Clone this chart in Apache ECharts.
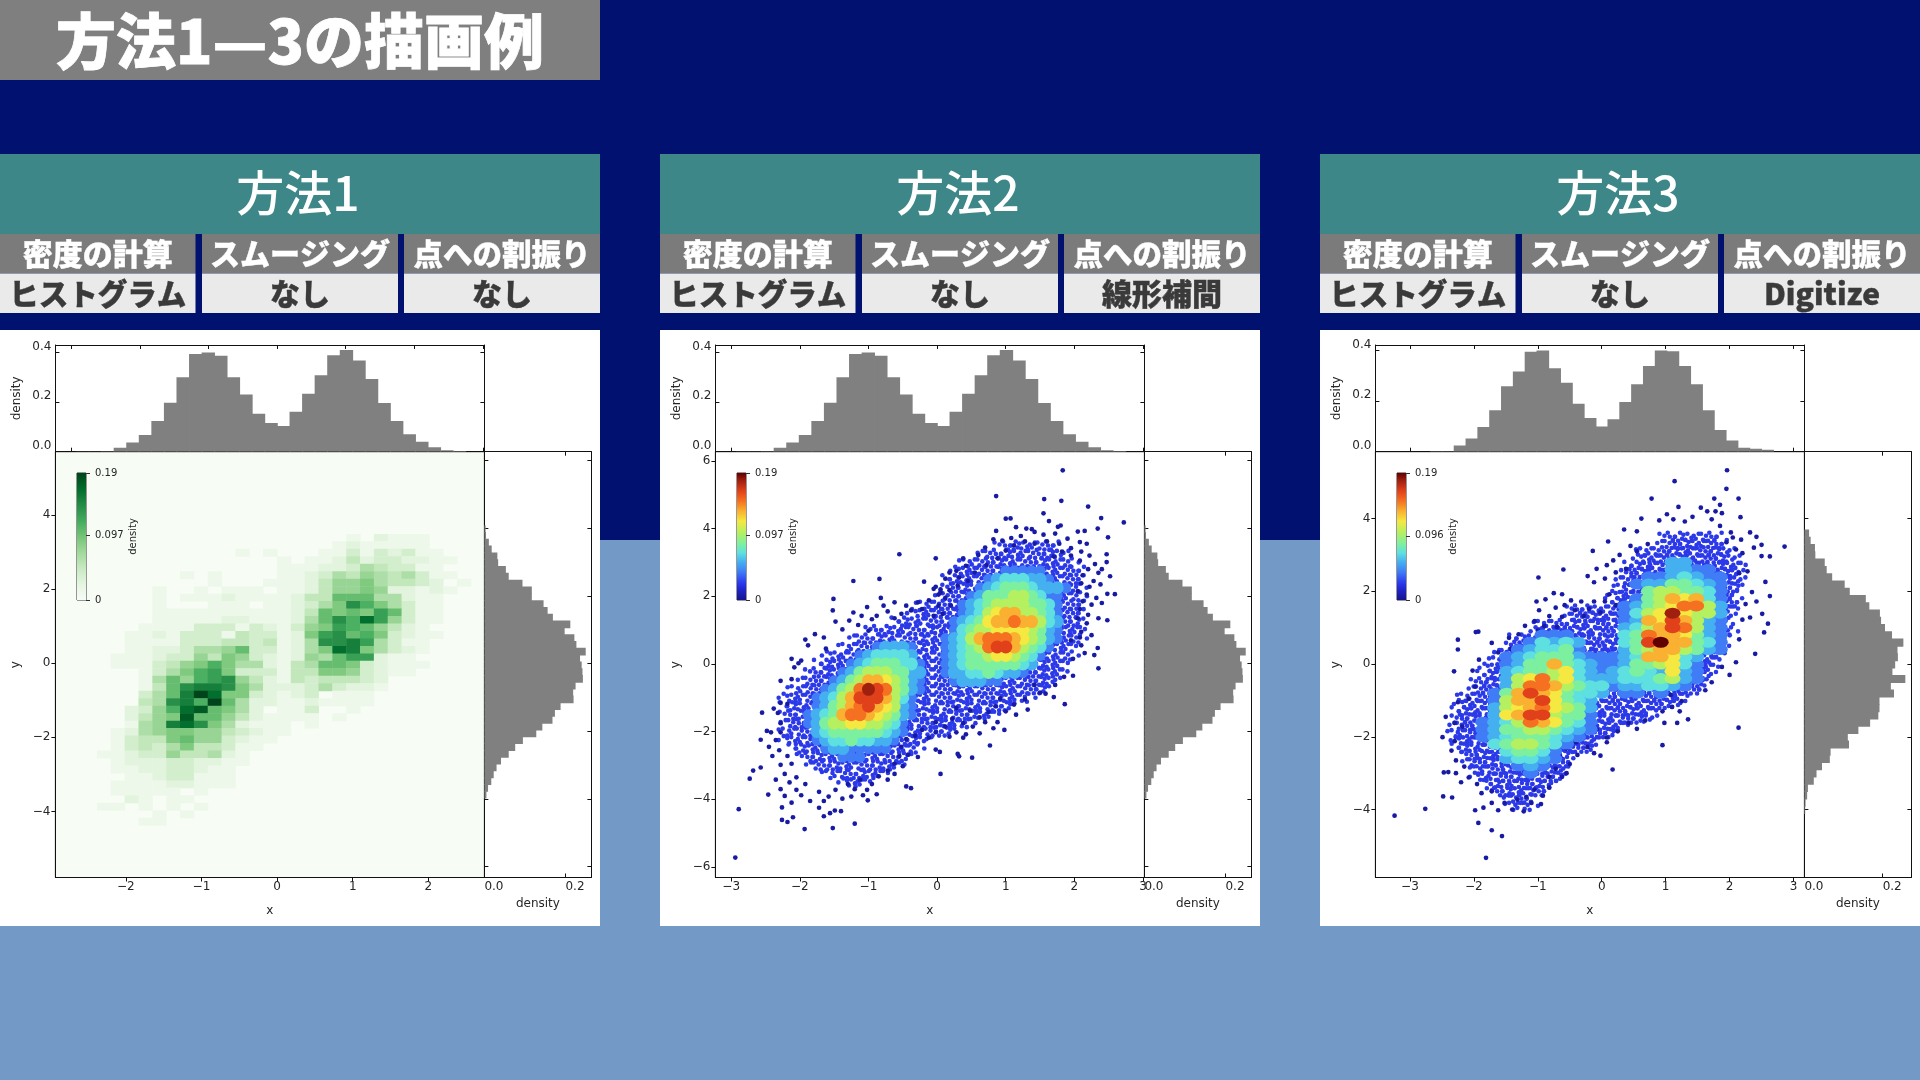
<!DOCTYPE html>
<html><head><meta charset="utf-8">
<style>html,body{margin:0;padding:0;background:#001170}#c{width:1920px;height:1080px}</style>
<script src="https://cdn.jsdelivr.net/npm/echarts@6/dist/echarts.min.js"></script>
</head><body><div id="c"></div>
<script>
// ---------- text ----------
const pageTitle='方法1—3の描画例';
const methodNames=['方法1','方法2','方法3'];
const headerLabels=['密度の計算','スムージング','点への割振り'];
const methodValues=[['ヒストグラム','なし','なし'],['ヒストグラム','なし','線形補間'],['ヒストグラム','なし','Digitize']];
const colorbarMid=[0.097,0.097,0.096];
// ---------- marginal histograms ----------
const topHistA=[.001,.001,.002,.016,.037,.067,.124,.197,.30,.394,.40,.387,.30,.231,.153,.116,.104,.161,.234,.308,.389,.41,.368,.293,.196,.124,.07,.04,.018,.006,.003];
const topHistAStart=-2.93, topHistAWidth=.183;
const rightHistA=[.003,.004,.011,.018,.032,.034,.053,.06,.094,.117,.117,.146,.156,.169,.212,.198,.222,.227,.25,.236,.24,.242,.243,.225,.219,.22,.188,.174,.168,.143,.128,.095,.076,.06,.041,.03,.023,.017,.009,.005];
const rightHistATop=4.09, rightHistAHeight=.2014;
const topHistB=[.002,.002,.025,.052,.098,.164,.259,.317,.395,.40,.33,.273,.19,.133,.10,.128,.197,.267,.339,.40,.397,.339,.267,.164,.086,.044,.016,.012,.008];
const topHistBStart=-2.685, topHistBWidth=.185;
const rightHistB=[.012,.016,.027,.028,.052,.057,.071,.103,.116,.157,.166,.193,.196,.206,.224,.253,.238,.239,.232,.225,.258,.221,.229,.192,.192,.189,.168,.138,.111,.114,.067,.065,.045,.031,.024,.009,.007,.003,.002];
const rightHistBTop=3.70, rightHistBHeight=.2;
// ---------- method 1 : 2D histogram, level 0-f of 0.19, rows from row 45 down to row 7 ----------
const heatXStart=-2.93, heatXWidth=.183, heatYStart=-5.78, heatYHeight=.2014, heatTopRow=45;
const heatRows=[
'00000 00000 00000 00000 01021 11000 0','00000 00000 00000 00000 12111 11000 0','00000 00000 00010 10001 13132 31100 0','00000 00000 00000 01011 24233 22110 0','00000 00000 00000 01112 23543 31100 0',
'00000 00001 01000 01123 54654 53110 0','00000 00000 01000 11124 66754 43201 0','00000 00100 10111 01124 66762 21210 0','00000 00101 11211 11244 88855 21100 0','00000 00100 01110 11235 7b975 31100 0',
'00000 00111 11111 11248 787a8 31100 0','00000 00111 11221 11258 b9da6 31100 0','00000 01111 33313 21367 a9864 21000 0','00000 11213 33143 3127a b8973 21100 0','00000 11113 33443 4125b bca53 11000 0',
'00000 11223 55683 31257 dc753 21000 0','00001 11233 64763 21265 8aa21 10000 0','00001 11346 79755 21458 87321 11000 0','00000 01357 9a733 31447 76321 10000 0','00000 01586 9ab64 21434 44320 00000 0',
'00000 0148b ccb75 22235 32210 00000 0','00000 0358c fd773 21230 11100 00000 0','00000 045bc 9f852 21121 11100 00000 0','00000 2369d e8752 01130 01000 00000 0','00000 2467e 88642 11110 10000 00000 0',
'00000 156cd b7521 11010 00000 00000 0','00001 25677 66432 11000 00000 00000 0','00001 34478 66321 10000 00000 00000 0','00001 34357 44311 00000 00000 00000 0','00011 23364 45210 00000 00000 00000 0',
'00001 22233 22110 00000 00000 00000 0','00001 12233 21100 00000 00000 00000 0','00000 11233 11100 00000 00000 00000 0','00001 11122 11100 00000 00000 00000 0','00001 11110 10000 00000 00000 00000 0',
'00000 21011 00000 00000 00000 00000 0','00011 01010 10000 00000 00000 00000 0','00000 00101 00000 00000 00000 00000 0','00000 01100 00000 00000 00000 00000 0'
];
// ---------- method 2 : read density level per cell ----------
const m2XStart=-2.25, m2XStep=.125, m2YTop=3.5, m2YStep=.25;
const m2Rows=[
'0000000000 0000000000 0000000111 1100000','0000000000 0000000000 0000111111 1110000','0000000000 0000000000 0001111111 1111000','0000000000 0000000000 0011112222 2111000',
'0000000000 0000000000 0011234443 3211100','0000000000 0000000000 0012345554 3332100','0000000000 0000000000 0123555665 4221000','0000000000 0000000000 1234566665 5421000',
'0000000000 0000000001 1234678866 5421000','0000000000 0000000001 2345788988 6431000','0000000000 0000000011 2456677776 5321000','0000000000 0000000012 3468999876 5321000',
'0000000001 1233321112 345 69aa865 4210000','0000000112 3444431112 3455677654 2100000','0000001123 4555442112 3455555543 1100000','0000011235 6665533112 3344543321 1000000',
'0000112356 8876532111 2333221110 0000000','0001123569 ba96532111 1111110000 0000000','000123468a aa86421111 1111100000 0000000','0011235689 a876321101 1100000000 0000000',
'0012345899 8765321000 0000000000 0000000','0012356677 6654210000 0000000000 0000000','0011345555 5543210000 0000000000 0000000','0001234454 4332100000 0000000000 0000000',
'0001123322 2221000000 0000000000 0000000','0000111222 1110000000 0000000000 0000000','0000011111 1100000000 0000000000 0000000','0000001010 0000000000 0000000000 0000000'
];
// extent of the dense blue band of points: [y, xFrom, xTo]
const m2BandStepX=.125, m2BandStepY=.25;
const m2Band=[[3.5,.88,1.75],[3.25,.62,1.88],[3,.38,2],[2.75,.25,2.12],[2.5,.12,2.12],[2.25,.12,2.12],[2,0,2.12],[1.75,-.25,2.12],[1.5,-.38,2.12],[1.25,-.62,2.12],[1,-1,2.12],[.75,-1.25,2.12],[.5,-1.38,2],[.25,-1.62,2],[0,-1.75,1.88],[-.25,-1.88,1.88],[-.5,-2,1.75],[-.75,-2.12,1.62],[-1,-2.25,1.38],[-1.25,-2.25,1.12],[-1.5,-2.25,.88],[-1.75,-2.25,.5],[-2,-2.25,.25],[-2.25,-2.25,-.12],[-2.5,-2.12,-.25],[-2.75,-2,-.38],[-3,-1.88,-.5],[-3.25,-1.62,-.75],[-3.5,-1.38,-1]];
const m2Dots=[1.83,5.72,.86,4.96,1.56,4.87,1.81,4.82,2.2,4.65,1.55,4.45,2.39,4.31,2.72,4.18,1.63,4.22,1.8,4.09,1.76,4.05,2.34,4,1,4.29,1.07,4.3,.86,3.93,1.15,4.04,1.3,4,1.38,3.98,2.49,3.74,2.15,3.93,2.05,3.91,2.47,3.24,2.47,3.01,-.55,3.24,-.02,3.12,2.52,2.59,2.4,2.8,2.35,2.69,2.48,2.07,2.59,2.06,2.48,1.29,2.34,.47,2.29,.26,2.35,-.13,1.86,-1.19,.77,-2.41,.51,-2.77,.3,-2.66,.32,-2.73,-.02,-2.53,.04,-2.6,.05,-3.25,-1.22,2.45,-.84,2.51,-.19,2.43,-1.51,1.92,-1.52,1.58,-2.55,-1.44,-2.57,-2.24,-2.68,-3.15,-2.73,-3.39,-2.57,-3.06,-2.89,-4.29,-2.46,-3.86,-2.94,-5.72,-1.93,-4.88,-1.52,-4.85,-1.2,-4.72,-2.18,-4.67,-2.26,-4.61,-2.1,-4.53,-2.26,-4.24,-1.65,-4.5,-1.56,-4.41,-1.49,-4.33,-1.4,-4.35,-1.01,-4.03,-.38,-3.67,-.45,-3.62,
1.72,3.85,1.9,3.7,2.08,3.6,2.18,3.55,1.55,3.82,1.42,3.9,1.22,3.78,1.08,3.72,.95,3.64,.82,3.68,.7,3.44,.6,3.22,.38,3.12,.42,2.9,.28,2.75,.18,2.7,.12,2.52,.32,2.55,.05,2.2,.02,2.05,.18,2.18,.3,2.32,.45,2.45,.55,2.7,.72,2.92,.88,3.12,1,3.35,1.12,3.5,1.28,3.62,1.42,3.55,1.6,3.62,1.78,3.55,1.95,3.42,2.1,3.32,2.22,3.2,2.08,3.05,1.95,3.2,1.82,3.32,1.7,3.18,2.3,2.95,2.2,2.8,2.12,2.62,2.28,2.45,2.38,2.35,2.22,2.28,2.1,2.38,2.05,2.15,2.18,2.05,2.32,1.95,2.4,1.8,2.25,1.75,2.12,1.85,2.08,1.62,2.2,1.45,2.35,1.35,2.18,1.2,2.05,1.35,2.1,.95,2.25,.85,2.08,.78,1.95,.7,2.1,.55,2.15,.32,1.98,.15,1.98,-.35,1.72,-.62,1.85,-.38,1.58,-.88,1.7,-.98,1.5,-.85,1.42,-.62,.92,-1.02,1.12,-1.2,1.28,-1.05,1.32,-1.35,1.15,-1.5,1,-1.4,.85,-1.25,.75,-1.42,.62,-1.58,.48,-1.38,.28,-1.3,.22,-1.62,.38,-1.75,.52,-1.85,.7,-1.72,.88,-1.72,.98,-1.95,.82,-1.9,.62,-2.05,.42,-2.08,.28,-2.02,.12,-1.85,-.02,-1.72,-.22,-1.95,-.12,-2.18,-.02,-2.02,.18,-2.15,.38,-2.18,-.32,-2.12,-.45,-2.22,-.6,-2.02,-.52,-2.45,-.42,-2.68,-.28,-2.75,-.55,-2.72,-.62,-2.95,-.5,-3.02,-.72,-2.55,-.72,-3.15,-.62,-3.25,-.72,-3.42,-.85,-3.32,-.95,-3.55,-1.02,-3.72,-.88,-3.85,-1.12,-3.42,-1.08,-3.88,-1.2,-3.7,-1.3,-3.55,-1.25,-3.92,-1.38,-3.98,-1.48,-3.72,-1.58,-3.92,-1.72,-3.78,-1.65,-4.05,-1.72,-4.25,-1.85,-4.05,-1.98,-3.88,-2.05,-3.72,-1.92,-3.55,-2.12,-4.1,-2.22,-3.9,-2.28,-3.7,-2.15,-3.5,-2.35,-3.42,-2.22,-3.25,-2.05,-3.35,-2.12,-2.95,-2.28,-2.98,-2.4,-2.72,-2.3,-2.55,-2.18,-2.72,-2.45,-2.45,-2.35,-2.25,-2.28,-2.02,-2.42,-2.02,-2.48,-1.98,-2.28,-1.75,-2.32,-1.45,-2.28,-1.15,-2.18,-1.18,-2.38,-1.32,-2.28,-.5,-2.12,-.45,-2.08,-.1,-2.02,.02,-2.12,.15,-1.98,.1,-1.88,.55,-1.92,.72,-1.78,.88,-1.65,.78,-1.62,.45,-1.38,1.02,-1.48,1.25,-1.28,1.28,-1.15,1.15,-1,.98,-.95,1.32,-1.1,1.42,-1.22,1.52,-1.02,1.68,-.88,1.42,-.78,1.72,-.82,1.95,-.72,1.55,-.62,1.82,-.62,1.35,-.52,1.48,-.45,1.72,-.38,1.58,-.28,1.82,-.22,1.62,-.12,1.88,-.05,1.42,.02,1.72,.08,1.48,.12,1.95,.2,1.72,-.05,2.22,-.02,2.28,.05,2.12];
// ---------- method 3 : density level per 2D bin (columns from bin 7) ----------
const m3XStart=-3.24, m3XStep=.185, m3FirstCol=7, m3YTop=3.70, m3YStep=.2, m3FirstRow=4;
const m3Rows=[
'0000000000 0000013311 00','0000000000 0000013322 10','0000000000 0000223432 20','0000000000 0012335543 20','0000000000 0001566554 21','0000000000 0012568784 21','0000000000 0023567996 31','0000000000 012467b766 30','0000000000 002387a863 20','0000000000 003468a963 20',
'0000122210 0045988753 20','0001243431 0045ac8854 20','0012344521 1135688653 20','0023455532 2234887431 00','0023558543 2235567421 00','0034556743 2345437321 00','0036796743 3344456321 00','0136998654 4233443211 00','0258a87544 3122121100 00','02688a7543 1101111000 00',
'0367897653 1110100000 00','1378aa6552 1000000000 00','2346987542 1000000000 00','2355665432 0000000000 00','2345554321 0000000000 00','1456654210 0000000000 00','1145542100 0000000000 00','0134432100 0000000000 00','0112321000 0000000000 00','0011210000 0000000000 00','0001100000 0000000000 00'
];
const m3BandStepX=.13, m3BandStepY=.2;
const m3Band=[[3.5,.95,1.8],[3.3,.9,1.9],[3.1,.6,2.05],[2.9,.55,2.1],[2.7,.4,2.2],[2.5,.35,2.2],[2.3,.25,2.2],[2.1,.25,2.2],[1.9,.15,2.15],[1.7,.1,2.15],[1.5,-.5,2.1],[1.3,-.55,2.1],[1.1,-1,2.05],[.9,-1.05,2.05],[.7,-1.4,1.95],[.5,-1.45,1.95],[.3,-1.65,1.85],[.1,-1.7,1.85],[-.1,-1.85,1.75],[-.3,-1.9,1.75],[-.5,-2,1.6],[-.7,-2.05,1.6],[-.9,-2.2,1.25],[-1.1,-2.25,1.25],[-1.3,-2.3,.85],[-1.5,-2.3,.8],[-1.7,-2.35,.35],[-1.9,-2.35,.3],[-2.1,-2.3,-.1],[-2.3,-2.3,-.15],[-2.5,-2.15,-.4],[-2.7,-2.15,-.45],[-2.9,-2,-.55],[-3.1,-2,-.6],[-3.3,-1.8,-.75],[-3.5,-1.75,-.8],[-3.7,-1.5,-1.05],[-3.9,-1.45,-1.1]];
const m3Dots=[1.96,5.33,1.14,5.03,.78,4.55,1.95,4.82,2.14,4.55,2.17,4.04,1.2,4.32,1.76,4.55,1.85,4.38,2.86,3.23,2.63,2.96,2.5,2.97,2.63,1.87,2.56,2.26,2.51,1.38,2.6,1.11,2.54,.87,2.4,.28,2.14,-1.75,.95,-2.23,.17,-2.9,.08,-2.15,-.02,-2.52,.1,3.37,-.14,3.11,-.6,2.6,-.99,2.38,-2.25,.67,-2.25,.4,-2.31,-.2,-3.24,-4.17,-2.76,-3.98,-1.81,-5.33,-1.56,-4.73,-1.72,-4.57,-1.93,-4.37,-2.48,-3.64,-2.34,-3.67,-2.47,-2.98,-2.4,-2.97,-2.49,-2.01,-2.44,-1.45,-1.93,.89,-1.97,.88,
.35,3.7,.55,3.65,.62,4,.9,3.95,1.02,4.12,1.12,3.98,1.3,3.92,1.42,4.05,1.55,4.3,1.65,4.2,1.78,4.2,1.88,4.15,1.72,3.98,1.85,3.8,2.02,3.62,2.05,3.48,2.18,3.42,2.32,3.62,2.42,3.5,2.38,3.2,2.5,3.28,2.2,3.05,2.1,3.15,1.95,3.35,.72,3.3,.55,3.1,.45,3.25,.28,3,.18,2.85,.08,2.72,-.08,2.62,-.22,2.42,-.12,2.25,.05,2.35,.22,2.52,.38,2.62,2.28,2.55,2.15,2.5,2.35,1.98,2.42,1.72,2.25,1.65,2.2,1.22,2.32,1.28,2.15,.68,2.1,.05,2,-.3,1.88,-.08,1.72,-.5,1.62,-.72,1.25,-1.02,1.08,-.85,1.1,-1.18,.95,-1.3,1.22,-1.3,1.35,-1.52,1.18,-1.62,.98,-1.62,.68,-1.55,.55,-1.78,.42,-1.62,.25,-1.85,.08,-2.02,-.08,-1.8,-.3,-1.88,-.4,-2.15,-.22,-2.28,-.12,-2.45,-.38,-2.5,-.5,-2.75,-.55,-2.32,-.65,-2.55,-.72,-2.88,-.55,-3,-.62,-3.1,-.82,-3.1,-.82,-3.4,-.92,-3.62,-1.05,-3.45,-1.1,-3.82,-.95,-3.85,-1.18,-3.65,-1.22,-4.05,-1.32,-3.72,-1.4,-4,-1.52,-3.82,-1.62,-4.02,-1.72,-3.82,-1.85,-3.95,-1.98,-4.02,-1.88,-3.55,-1.72,-3.5,-1.95,-3.3,-2.08,-3.12,-2.2,-3.25,-2.28,-3,-2.15,-2.82,-2.28,-2.65,-2.35,-2.38,-2.3,-2.12,-2.18,-1.72,-2.3,-1.62,-2.25,-1.05,-2.08,-.95,-1.98,-.62,-2.02,-.18,-1.92,.12,-1.62,.32,-1.72,.58,-1.42,.42,-1.45,.72,-1.3,.82,-1,.92,-1.2,1.05,-1.05,1.18,-.9,1.05,-.7,1.02,-.62,1.3,-.82,1.32,-.98,1.48,-.72,1.55,-.58,1.62,-.88,1.78,-1.02,1.72,-.75,1.95,-.62,1.92,-.48,1.75,-.42,1.48,-.32,1.72,-.28,1.32,-.2,1.52,-.12,1.72,-.02,1.42,.05,1.72,.12,1.92,.22,1.62,.28,1.38];
// ---------- ticks ----------
const histXTicks=[-3,-2,-1,0,1,2,3], heatXTicks=[-2,-1,0,1,2];
const topYTicks=[0,.2,.4], yTicksA=[-4,-2,0,2,4], yTicksB=[-6,-4,-2,0,2,4,6], rightXTicks=[0,.2];
const colorbarMax=.19;
// ---------- styles ----------
const greensStops=[[0,'#f7fcf5'],[.125,'#e5f5e0'],[.25,'#c7e9c0'],[.375,'#a1d99b'],[.5,'#74c476'],[.625,'#41ab5d'],[.75,'#238b45'],[.875,'#006d2c'],[1,'#00441b']];
const jetStops=[[0,'#14148c'],[.08,'#1f25c8'],[.14,'#2d3df0'],[.22,'#3f7cf5'],[.30,'#45b0f0'],[.37,'#5ee0e0'],[.44,'#7df0a0'],[.53,'#b5f060'],[.62,'#f5e840'],[.70,'#fab030'],[.78,'#f57020'],[.86,'#e0401a'],[.94,'#a02010'],[1,'#600000']];
const levelFrac=[0,.14,.22,.30,.37,.44,.53,.62,.70,.78,.86,.94,1];
// pixel-offset stipple used to texture the dense blue band
const stipple=[[[-3,-3],[2,-1],[-1,3],[4,4]],[[1,-4],[-4,0],[3,2],[-1,4]],[[-2,-1],[3,-3],[0,2],[-4,4]],[[4,0],[-3,-4],[-1,0],[2,4]],[[-4,-2],[0,-3],[4,1],[-2,3]]];
const hexRgb=h=>[1,3,5].map(i=>parseInt(h.substr(i,2),16));
function cmap(stops,t){t=Math.max(0,Math.min(1,t));for(let i=1;i<stops.length;i++){if(t<=stops[i][0]){const a=stops[i-1],b=stops[i],f=(t-a[0])/(b[0]-a[0]),A=hexRgb(a[1]),B=hexRgb(b[1]);return 'rgb('+A.map((v,k)=>Math.round(v+(B[k]-v)*f)).join(',')+')';}}return stops[stops.length-1][1];}
const FONT='"DejaVu Sans"';
const TXT='#262626';
const GRAY='#808080';
const fmt=d=>v=>(v<0?'\u2212':'')+Math.abs(v).toFixed(d);
const strip=r=>r.replace(/ /g,'');

// ---------- build ----------
const grids=[],xAxes=[],yAxes=[],series=[];
function mirror(pos,vals,min,max,gridIndex){return {type:'value',gridIndex,position:pos,min,max,splitLine:{show:false},axisLine:{show:true,onZero:false,lineStyle:{color:'#111',width:1}},axisLabel:{show:false},axisTick:{show:true,inside:true,length:4,customValues:vals,lineStyle:{color:'#111'}}};}
function mainAxis(pos,vals,min,max,gridIndex,name,d,extra){return Object.assign({type:'value',gridIndex,position:pos,min,max,name,nameLocation:'middle',splitLine:{show:false},axisLine:{show:true,onZero:false,lineStyle:{color:'#111',width:1}},axisTick:{show:true,length:4,customValues:vals,lineStyle:{color:'#111'}},axisLabel:{show:true,customValues:vals,formatter:fmt(d),color:TXT,fontFamily:FONT,fontSize:12,margin:5,hideOverlap:false},nameTextStyle:{color:TXT,fontFamily:FONT,fontSize:12}},extra||{});}
function barTop(values,start,w,xi,yi){return {type:'custom',xAxisIndex:xi,yAxisIndex:yi,clip:true,silent:true,data:values.map((v,i)=>[start+i*w,start+(i+1)*w,v]),
 renderItem:(p,api)=>{const a=api.coord([api.value(0),0]),b=api.coord([api.value(1),api.value(2)]);return {type:'rect',shape:{x:a[0],y:b[1],width:b[0]-a[0]+.8,height:a[1]-b[1]},style:{fill:GRAY}};}};}
function barRight(values,top,h,xi,yi){return {type:'custom',xAxisIndex:xi,yAxisIndex:yi,clip:true,silent:true,data:values.map((v,i)=>[top-i*h,top-(i+1)*h,v]),
 renderItem:(p,api)=>{const a=api.coord([0,api.value(0)]),b=api.coord([api.value(2),api.value(1)]);return {type:'rect',shape:{x:a[0],y:a[1],width:b[0]-a[0],height:b[1]-a[1]+.8},style:{fill:GRAY}};}};}
function heatSeries(xi,yi){const d=[];heatRows.map(strip).forEach((r,j)=>{const k=heatTopRow-j;for(let c=0;c<r.length;c++){const l=parseInt(r[c],16);if(l>0)d.push([heatXStart+c*heatXWidth,heatXStart+(c+1)*heatXWidth,heatYStart+k*heatYHeight,heatYStart+(k+1)*heatYHeight,l/15*colorbarMax]);}});
 return {type:'custom',xAxisIndex:xi,yAxisIndex:yi,clip:true,silent:true,data:d,renderItem:(p,api)=>{const a=api.coord([api.value(0),api.value(3)]),b=api.coord([api.value(1),api.value(2)]);return {type:'rect',shape:{x:a[0],y:a[1],width:b[0]-a[0]+.5,height:b[1]-a[1]+.5},style:{fill:cmap(greensStops,api.value(4)/colorbarMax)}};}};}
function dotSeries(flat,d,frac,xi,yi){const pts=[];for(let i=0;i<flat.length;i+=2)pts.push([flat[i],flat[i+1],d]);
 return {type:'scatter',xAxisIndex:xi,yAxisIndex:yi,silent:true,symbol:'circle',symbolSize:4.7,data:pts,itemStyle:{color:cmap(jetStops,frac),opacity:1},z:2};}
function bandSeries(band,stepX,xi,yi){const d=[],blue=cmap(jetStops,.13);band.forEach((b,r)=>{const n=Math.round((b[2]-b[1])/stepX);for(let i=0;i<=n;i++){d.push([b[1]+i*stepX,b[0],(i*3+r*2)%5,(i===0||i===n)?1:0]);}});
 return {type:'custom',xAxisIndex:xi,yAxisIndex:yi,clip:true,silent:true,z:2,data:d,renderItem:(p,api)=>{const c=api.coord([api.value(0),api.value(1)]),t=stipple[api.value(2)],m=t.length-api.value(3)*2;return {type:'group',children:t.slice(0,m).map(o=>({type:'circle',shape:{cx:c[0]+o[0],cy:c[1]+o[1],r:2.3},style:{fill:blue}}))};}};}
function gridPoints(rows,xAt,yAt,sizeFn,xi,yi){const d=[];rows.map(strip).forEach((r,j)=>{for(let c=0;c<r.length;c++){const l=parseInt(r[c],16);if(l>1)d.push([xAt(c),yAt(j),levelFrac[l]*colorbarMax,l]);}});d.sort((a,b)=>a[3]-b[3]);
 return {type:'scatter',xAxisIndex:xi,yAxisIndex:yi,silent:true,symbol:'circle',symbolSize:v=>sizeFn(v[3]),data:d,itemStyle:{color:p=>cmap(jetStops,p.value[2]/colorbarMax),opacity:1},z:3};}

const cfg=[
 {off:0,mainX:[-2.93,2.74],mainY:[-5.78,5.70],mainXT:heatXTicks,mainYT:yTicksA,topX:[-3.23,3.02],topMax:.43,rightY:[-6.32,6.26],rightMax:.264,top:[topHistA,topHistAStart,topHistAWidth],right:[rightHistA,rightHistATop,rightHistAHeight],stops:greensStops},
 {off:660,mainX:[-3.23,3.02],mainY:[-6.31,6.27],mainXT:histXTicks,mainYT:yTicksB,topX:[-3.23,3.02],topMax:.43,rightY:[-6.32,6.26],rightMax:.264,top:[topHistA,topHistAStart,topHistAWidth],right:[rightHistA,rightHistATop,rightHistAHeight],stops:jetStops},
 {off:1320,mainX:[-3.54,3.17],mainY:[-5.87,5.84],mainXT:histXTicks,mainYT:yTicksA,topX:[-3.54,3.17],topMax:.422,rightY:[-5.87,5.84],rightMax:.2735,top:[topHistB,topHistBStart,topHistBWidth],right:[rightHistB,rightHistBTop,rightHistBHeight],stops:jetStops}
];
const L=55.4,MW=429,RW=107,HT=345,HH=106.7,MT=451.7,MH=425.8;
cfg.forEach((c,p)=>{
 const gTop=grids.length;
 grids.push({left:c.off+L,top:HT,width:MW,height:HH});
 grids.push({left:c.off+L,top:MT,width:MW,height:MH,show:true,borderColor:'#111',borderWidth:1,backgroundColor:p===0?'#f7fcf5':'transparent'});
 grids.push({left:c.off+L+MW,top:MT,width:RW,height:MH});
 grids.push({left:c.off+77,top:473,width:9,height:127,show:true,borderColor:'#333',borderWidth:1});
 // top histogram
 const xiT=xAxes.length,yiT=yAxes.length;
 xAxes.push(mirror('bottom',histXTicks,c.topX[0],c.topX[1],gTop),mirror('top',histXTicks,c.topX[0],c.topX[1],gTop));
 yAxes.push(mainAxis('left',topYTicks,0,c.topMax,gTop,'density',1,{nameGap:33,axisTick:{show:true,inside:true,length:4,customValues:topYTicks,lineStyle:{color:'#111'}}}),mirror('right',topYTicks,0,c.topMax,gTop));
 yAxes[yiT].axisLabel.verticalAlign='bottom';yAxes[yiT].axisLabel.margin=4;
 series.push(barTop(c.top[0],c.top[1],c.top[2],xiT,yiT));
 // main
 const xiM=xAxes.length,yiM=yAxes.length;
 xAxes.push(mainAxis('bottom',c.mainXT,c.mainX[0],c.mainX[1],gTop+1,'x',0,{nameGap:27}));
 xAxes[xiM].axisLabel.margin=3;
 yAxes.push(mainAxis('left',c.mainYT,c.mainY[0],c.mainY[1],gTop+1,'y',0,{nameGap:34}));
 if(p===0)series.push(heatSeries(xiM,yiM));
 if(p===1){series.push(dotSeries(m2Dots,.005,.03,xiM,yiM));series.push(bandSeries(m2Band,m2BandStepX,xiM,yiM));series.push(gridPoints(m2Rows,i=>m2XStart+i*m2XStep,j=>m2YTop-j*m2YStep,l=>l===2?11:13,xiM,yiM));}
 if(p===2){series.push(dotSeries(m3Dots,.005,.03,xiM,yiM));series.push(bandSeries(m3Band,m3BandStepX,xiM,yiM));series.push(gridPoints(m3Rows,i=>m3XStart+(m3FirstCol+i+.5)*m3XStep,j=>m3YTop-(m3FirstRow+j+.5)*m3YStep,()=>[16,11],xiM,yiM));}
 // right histogram
 const xiR=xAxes.length,yiR=yAxes.length;
 xAxes.push(mainAxis('bottom',rightXTicks,0,c.rightMax,gTop+2,'density',1,{nameGap:20,axisTick:{show:true,inside:true,length:4,customValues:rightXTicks,lineStyle:{color:'#111'}}}),mirror('top',rightXTicks,0,c.rightMax,gTop+2));
 xAxes[xiR].axisLabel.align='left';xAxes[xiR].axisLabel.margin=3;
 yAxes.push(mirror('left',yTicksB,c.rightY[0],c.rightY[1],gTop+2),mirror('right',yTicksB,c.rightY[0],c.rightY[1],gTop+2));
 series.push(barRight(c.right[0],c.right[1],c.right[2],xiR,yiR));
 // colour bar
 const cbT=[0,colorbarMid[p],colorbarMax];
 const xiC=xAxes.length,yiC=yAxes.length;
 xAxes.push({type:'category',gridIndex:gTop+3,data:['density'],show:false});
 yAxes.push({type:'value',gridIndex:gTop+3,position:'right',min:0,max:colorbarMax,name:'density',nameLocation:'middle',nameRotate:90,nameGap:42,nameTextStyle:{color:TXT,fontFamily:FONT,fontSize:10},splitLine:{show:false},axisLine:{show:false},
   axisTick:{show:true,length:4,customValues:cbT,lineStyle:{color:'#333'}},axisLabel:{show:true,customValues:cbT,formatter:v=>String(v),color:TXT,fontFamily:FONT,fontSize:10,margin:9}});
 series.push({type:'bar',xAxisIndex:xiC,yAxisIndex:yiC,silent:true,barWidth:'100%',data:[colorbarMax],
   itemStyle:{color:new echarts.graphic.LinearGradient(0,1,0,0,c.stops.map(s=>({offset:s[0],color:s[1]})))}});
});
// ---------- page furniture ----------
const gfx=[];
const rect=(x,y,w,h,fill)=>gfx.push({type:'rect',z:-10,silent:true,shape:{x,y,width:w,height:h},style:{fill}});
const text=(s,x,y,size,weight,fill,sw)=>gfx.push({type:'text',z:-9,silent:true,style:{text:s,x,y,fill,stroke:sw?fill:null,lineWidth:sw||0,align:'center',verticalAlign:'middle',font:weight+' '+size+'px "Noto Sans CJK JP"'}});
rect(0,0,1920,540,'#001170');rect(0,540,1920,540,'#7399c6');
rect(0,0,600,80,'#7f7f7f');text(pageTitle,300,41,60,900,'#fff',.8);
const cellX=[[0,195.5],[202,196],[404,196]];
methodNames.forEach((n,p)=>{const o=p*660;
 rect(o,154,600,80,'#3d8789');text(n,o+298,193,48,500,'#fff');
 cellX.forEach((cx,i)=>{rect(o+cx[0],234,cx[1],39.5,'#7b7b7b');rect(o+cx[0],273.5,cx[1],39.5,'#eaeaea');
  text(headerLabels[i],o+cx[0]+cx[1]/2,254,i===2?29.5:30,900,'#fff',.4);text(methodValues[p][i],o+cx[0]+cx[1]/2,293.5,i===0?29.5:30,900,'#3a3a3a',.4);});
 rect(o,330,600,596,'#fff');
});
const chart=echarts.init(document.getElementById('c'),null,{renderer:'canvas'});
chart.setOption({animation:false,backgroundColor:'transparent',tooltip:{show:false},graphic:{elements:gfx},grid:grids,xAxis:xAxes,yAxis:yAxes,series});
</script></body></html>
